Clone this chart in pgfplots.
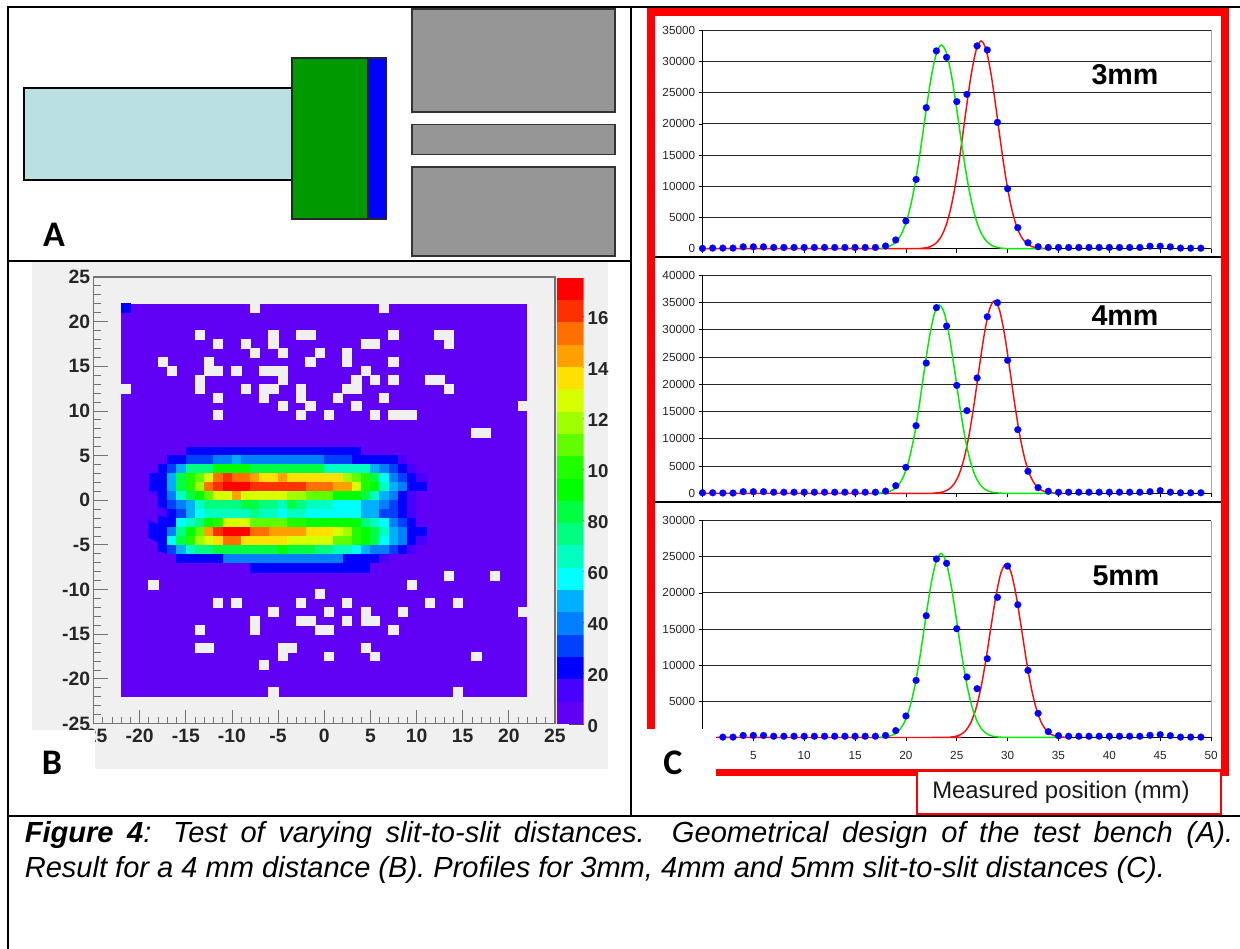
\documentclass[border=0pt]{standalone}
\usepackage{fontspec}
\setmainfont{Liberation Sans}
\newfontfamily\carlito{Carlito}
\usepackage{pgfplots}
\pgfplotsset{compat=1.18}
\definecolor{panel}{RGB}{240,240,240}
\definecolor{L1}{RGB}{96,0,245}
\definecolor{L2}{RGB}{72,0,255}
\definecolor{L3}{RGB}{0,0,255}
\definecolor{L4}{RGB}{0,64,255}
\definecolor{L5}{RGB}{0,128,255}
\definecolor{L6}{RGB}{0,176,255}
\definecolor{L7}{RGB}{0,255,255}
\definecolor{L8}{RGB}{0,255,192}
\definecolor{L9}{RGB}{0,255,128}
\definecolor{L10}{RGB}{0,255,64}
\definecolor{L11}{RGB}{0,255,0}
\definecolor{L12}{RGB}{32,255,0}
\definecolor{L13}{RGB}{96,255,0}
\definecolor{L14}{RGB}{160,255,0}
\definecolor{L15}{RGB}{216,255,0}
\definecolor{L16}{RGB}{255,224,0}
\definecolor{L17}{RGB}{255,160,0}
\definecolor{L18}{RGB}{255,112,0}
\definecolor{L19}{RGB}{255,48,0}
\definecolor{L20}{RGB}{255,0,0}
\definecolor{cg}{RGB}{0,235,0}
\definecolor{cr}{RGB}{240,16,16}
\pgfplotsset{
  colormap={root}{color=(L1) color=(L2) color=(L3) color=(L4) color=(L5) color=(L6) color=(L7) color=(L8) color=(L9) color=(L10) color=(L11) color=(L12) color=(L13) color=(L14) color=(L15) color=(L16) color=(L17) color=(L18) color=(L19) color=(L20)},
  pixel/.style={at={(0,-711.75pt)},anchor=south west,scale only axis,width=930pt,height=711.75pt,
    xmin=0,xmax=1240,ymin=0,ymax=949,y dir=reverse,hide axis,clip=false},
  chart/.style={scale only axis,width=381.4pt,xmin=0,xmax=50,anchor=south west,
    axis x line*=bottom,axis y line*=left,axis line style={-,black,line width=.7pt},
    xtick={0,5,...,50},tick align=outside,major tick length=3pt,
    tick style={black,line width=.6pt},ymajorgrids,grid style={black!85,line width=.7pt},
    scaled ticks=false,xticklabels={},
    ticklabel style={font=\fontsize{8.8}{10}\selectfont,text=black!85},
    yticklabel style={xshift=1pt},clip=false},
  curvG/.style={cg,line width=1.1pt,smooth,tension=0.5},
  curvR/.style={cr,line width=1.1pt,smooth,tension=0.5},
  dots/.style={blue,only marks,mark=*,mark size=2.6pt,mark options={draw=blue,fill=blue,line width=0.1pt}},
}
\newcommand{\rect}[5]{\addplot[#1] coordinates {(#2,#3)(#4,#3)(#4,#5)(#2,#5)} --cycle;}
\newcommand{\band}[3]{\addplot[fill=#1,draw=none] coordinates {(0,#2)(1,#2)(1,#3)(0,#3)} --cycle;}
\begin{document}
\begin{tikzpicture}
\useasboundingbox (0,0) rectangle (930pt,-711.75pt);
% ---------- background: frame, panel A, grey panel of B
\begin{axis}[pixel]
\rect{fill=white,draw=none}{0}{0}{1240}{949}
\rect{fill=panel,draw=none}{32}{262}{608}{769}
\rect{fill={rgb,255:red,187;green,224;blue,227},draw=black,line width=1.2pt}{23.7}{88}{292}{180}
\rect{fill={rgb,255:red,0;green,153;blue,0},draw=black!85,line width=1.2pt}{292}{58}{368}{218.7}
\rect{fill=blue,draw=black!85,line width=1.2pt}{368}{58}{386.5}{218.7}
\rect{fill={rgb,255:red,150;green,150;blue,150},draw=black!80,line width=1.2pt}{412}{8.7}{615}{112}
\rect{fill={rgb,255:red,150;green,150;blue,150},draw=black!80,line width=1.2pt}{412}{124.3}{615}{154.3}
\rect{fill={rgb,255:red,150;green,150;blue,150},draw=black!80,line width=1.2pt}{412}{167}{615}{255.7}
\end{axis}
% ---------- panel B: map
\begin{axis}[at={(70.125pt,-542.625pt)},anchor=south west,scale only axis,width=346.1pt,height=334.9pt,
  xmin=-25,xmax=25,ymin=-25,ymax=25,
  colormap name=root,point meta min=1,point meta max=20,
  tick pos=left,tick align=inside,major tick length=10.5pt,minor tick length=5.25pt,minor tick num=4,
  xtick={-25,-20,...,25},ytick={-25,-20,...,25},
  xticklabels={-25,-20,-15,-10,-5,0,5,10,15,20,25},
  yticklabels={-25,-20,-15,-10,-5,0,5,10,15,20,25},
  ticklabel style={font=\fontsize{14.5}{16}\selectfont\bfseries,text=black!85},
  xticklabel style={yshift=-0.5pt},yticklabel style={xshift=1pt},
  tick style={black!55,line width=.6pt},
  axis line style={black!55,line width=1.1pt}]
\addplot[fill=L1,draw=none] coordinates {(-22,-22)(22,-22)(22,22)(-22,22)} --cycle;
\addplot[L3,only marks,mark=square*,mark size=3.46pt,mark options={draw=L3,fill=L3,line width=0pt,yscale=0.97}] coordinates {(-21.5,21.5)};
\addplot[matrix plot*,mesh/cols=30,mesh/rows=14,point meta=explicit,draw=mapped color,line width=.2pt]
 table[row sep=\\,meta=c,x expr={mod(\coordindex,30)-18.5},y expr={5.5-floor(\coordindex/30)}]{
c\\
1\\1\\1\\1\\3\\3\\3\\3\\3\\3\\3\\3\\3\\3\\3\\3\\3\\3\\3\\3\\3\\3\\3\\1\\1\\1\\1\\1\\1\\1\\
1\\1\\3\\3\\4\\4\\4\\5\\5\\6\\5\\5\\5\\5\\5\\5\\5\\5\\5\\4\\4\\4\\3\\3\\3\\3\\3\\2\\1\\1\\
1\\3\\4\\6\\9\\9\\9\\11\\11\\11\\11\\10\\10\\10\\10\\10\\10\\10\\10\\8\\8\\8\\8\\8\\6\\5\\4\\3\\2\\1\\
3\\3\\6\\10\\12\\13\\15\\18\\19\\18\\18\\17\\16\\16\\17\\16\\16\\16\\16\\16\\16\\14\\13\\12\\10\\7\\5\\4\\3\\2\\
3\\3\\6\\10\\12\\14\\18\\19\\20\\20\\20\\19\\19\\19\\19\\19\\19\\18\\18\\18\\17\\17\\15\\12\\11\\8\\6\\5\\3\\3\\
2\\3\\5\\8\\10\\11\\13\\15\\15\\17\\15\\15\\15\\15\\15\\14\\14\\13\\13\\13\\11\\11\\11\\10\\8\\6\\5\\3\\2\\1\\
1\\3\\4\\5\\6\\8\\9\\9\\9\\9\\10\\10\\9\\9\\8\\10\\9\\8\\8\\8\\7\\7\\7\\6\\6\\5\\4\\3\\2\\1\\
1\\2\\3\\4\\6\\7\\8\\8\\8\\8\\8\\9\\8\\8\\7\\8\\8\\7\\7\\7\\7\\7\\7\\6\\6\\4\\4\\3\\2\\1\\
1\\3\\3\\7\\8\\9\\11\\12\\15\\15\\15\\13\\13\\13\\13\\12\\12\\11\\11\\11\\11\\11\\11\\9\\8\\7\\5\\4\\3\\1\\
3\\3\\5\\9\\11\\13\\17\\19\\20\\20\\20\\18\\18\\17\\17\\17\\17\\16\\16\\16\\15\\14\\12\\11\\10\\8\\6\\5\\3\\3\\
3\\3\\7\\10\\12\\14\\15\\16\\18\\18\\16\\16\\16\\16\\16\\15\\15\\15\\15\\15\\13\\13\\12\\11\\10\\7\\6\\5\\3\\2\\
1\\3\\4\\6\\8\\9\\9\\10\\10\\10\\10\\10\\10\\10\\11\\10\\10\\10\\9\\9\\8\\8\\7\\6\\5\\5\\4\\3\\2\\1\\
1\\1\\1\\3\\3\\3\\3\\3\\5\\5\\5\\5\\5\\5\\5\\5\\5\\5\\5\\5\\5\\3\\3\\3\\3\\2\\1\\1\\1\\1\\
1\\1\\1\\1\\1\\1\\1\\1\\1\\1\\1\\3\\3\\3\\3\\3\\3\\3\\3\\3\\3\\3\\3\\3\\1\\1\\1\\1\\1\\1\\
};
\addplot[panel,only marks,mark=square*,mark size=3.46pt,mark options={draw=panel,fill=panel,line width=0pt,yscale=0.97}] coordinates {
(-7.5,21.5)(6.5,21.5)
(-13.5,18.5)(-5.5,18.5)(-2.5,18.5)(-1.5,18.5)(7.5,18.5)(12.5,18.5)(13.5,18.5)
(-11.5,17.5)(-8.5,17.5)(-5.5,17.5)(4.5,17.5)(5.5,17.5)(13.5,17.5)
(-7.5,16.5)(-4.5,16.5)(-0.5,16.5)(2.5,16.5)
(-17.5,15.5)(-12.5,15.5)(-1.5,15.5)(2.5,15.5)(7.5,15.5)
(-16.5,14.5)(-12.5,14.5)(-11.5,14.5)(-9.5,14.5)(-6.5,14.5)(-5.5,14.5)(-4.5,14.5)(4.5,14.5)
(-13.5,13.5)(-4.5,13.5)(3.5,13.5)(5.5,13.5)(7.5,13.5)(11.5,13.5)(12.5,13.5)
(-21.5,12.5)(-13.5,12.5)(-8.5,12.5)(-6.5,12.5)(-5.5,12.5)(-2.5,12.5)(2.5,12.5)(3.5,12.5)(13.5,12.5)
(-11.5,11.5)(-6.5,11.5)(-2.5,11.5)(1.5,11.5)(6.5,11.5)
(-4.5,10.5)(-1.5,10.5)(3.5,10.5)(21.5,10.5)
(-11.5,9.5)(-2.5,9.5)(0.5,9.5)(5.5,9.5)(7.5,9.5)(8.5,9.5)(9.5,9.5)
(16.5,7.5)(17.5,7.5)
(13.5,-8.5)(18.5,-8.5)
(-18.5,-9.5)(9.5,-9.5)
(-0.5,-10.5)
(-11.5,-11.5)(-9.5,-11.5)(-2.5,-11.5)(2.5,-11.5)(11.5,-11.5)(14.5,-11.5)
(-5.5,-12.5)(0.5,-12.5)(4.5,-12.5)(8.5,-12.5)(21.5,-12.5)
(-7.5,-13.5)(-2.5,-13.5)(-1.5,-13.5)(2.5,-13.5)(4.5,-13.5)(5.5,-13.5)
(-13.5,-14.5)(-7.5,-14.5)(-0.5,-14.5)(0.5,-14.5)(7.5,-14.5)
(-13.5,-16.5)(-12.5,-16.5)(-4.5,-16.5)(-3.5,-16.5)(4.5,-16.5)
(-4.5,-17.5)(0.5,-17.5)(5.5,-17.5)(16.5,-17.5)
(-6.5,-18.5)
(-5.5,-21.5)(14.5,-21.5)
};
\end{axis}
% ---------- panel B: colour scale
\begin{axis}[at={(417.75pt,-543pt)},anchor=south west,scale only axis,width=20pt,height=334.7pt,
  xmin=0,xmax=1,ymin=0,ymax=175,axis x line=none,axis y line*=right,axis line style={draw=none},
  ytick={0,20,...,160},yticklabels={0,20,40,60,80,10,12,14,16},
  tick align=inside,major tick length=11.25pt,tick style={black!70,line width=.6pt},
  yticklabel style={font=\fontsize{14}{16}\selectfont\bfseries,text=black!85,xshift=-0.5pt,yshift=-1.5pt}]
\band{L1}{0}{8.75}\band{L2}{8.75}{17.5}\band{L3}{17.5}{26.25}\band{L4}{26.25}{35}
\band{L5}{35}{43.75}\band{L6}{43.75}{52.5}\band{L7}{52.5}{61.25}\band{L8}{61.25}{70}
\band{L9}{70}{78.75}\band{L10}{78.75}{87.5}\band{L11}{87.5}{96.25}\band{L12}{96.25}{105}
\band{L13}{105}{113.75}\band{L14}{113.75}{122.5}\band{L15}{122.5}{131.25}\band{L16}{131.25}{140}
\band{L17}{140}{148.75}\band{L18}{148.75}{157.5}\band{L19}{157.5}{166.25}\band{L20}{166.25}{175}
\end{axis}
% ---------- panel C: 3 mm
\begin{axis}[chart,at={(526.875pt,-186.525pt)},height=163.8pt,ymin=0,ymax=35000,ytick={0,5000,...,35000},yticklabels={0,5000,10000,15000,20000,25000,30000,35000}]
\addplot[black!35,line width=.7pt] coordinates {(50,0)(50,35000)};
\addplot[curvR] coordinates {(0,0)(21,0)(21.4,45)(21.9,130)(22.4,340)(22.9,810)(23.4,1760)(23.9,3520)(24.4,6390)(24.9,10590)(25.4,15980)(25.9,22040)(26.4,27700)(26.9,31800)(27.4,33300)(27.9,31800)(28.4,27700)(28.9,22040)(29.4,15980)(29.9,10590)(30.4,6390)(30.9,3520)(31.4,1760)(31.9,810)(32.4,340)(32.9,130)(33.4,45)(34,0)};
\addplot[curvG] coordinates {(17.5,0)(18,200)(18.5,480)(19,1070)(19.5,2190)(20,4120)(20.5,7140)(21,11360)(21.5,16610)(22,22330)(22.5,27580)(23,31300)(23.5,32650)(24,31300)(24.5,27580)(25,22330)(25.5,16610)(26,11360)(26.5,7140)(27,4120)(27.5,2190)(28,1070)(28.5,480)(29,200)(29.5,75)(30.5,0)(33.5,0)};
\addplot[dots] coordinates {(0,50)(1,100)(2,100)(3,100)(4,300)(5,300)(6,300)(7,200)(8,200)(9,200)(10,200)(11,200)(12,200)(13,200)(14,200)(15,200)(16,200)(17,200)(18,430)(19,1400)(20,4440)(21,11100)(22,22600)(23,31700)(24,30670)(25,23570)(26,24740)(27,32500)(28,31850)(29,20250)(30,9620)(31,3370)(32,960)(33,320)(34,200)(35,200)(36,200)(37,200)(38,200)(39,200)(40,200)(41,200)(42,200)(43,200)(44,400)(45,400)(46,300)(47,100)(48,80)(49,80)};
\end{axis}
% ---------- panel C: 4 mm
\begin{axis}[chart,at={(526.875pt,-369.975pt)},height=163.5pt,ymin=0,ymax=40000,ytick={0,5000,...,40000},yticklabels={0,5000,10000,15000,20000,25000,30000,35000,40000}]
\addplot[black!35,line width=.7pt] coordinates {(50,0)(50,40000)};
\addplot[curvR] coordinates {(0,0)(22.2,0)(22.7,35)(23.2,105)(23.7,290)(24.2,720)(24.7,1630)(25.2,3340)(25.7,6250)(26.2,10590)(26.7,16340)(27.2,22910)(27.7,29120)(28.2,33640)(28.7,35300)(29.2,33640)(29.7,29120)(30.2,22910)(30.7,16340)(31.2,10590)(31.7,6250)(32.2,3340)(32.7,1630)(33.2,720)(33.7,290)(34.2,105)(34.7,35)(35.5,0)};
\addplot[curvG] coordinates {(17.3,35)(17.8,100)(18.3,280)(18.8,700)(19.3,1590)(19.8,3270)(20.3,6120)(20.8,10370)(21.3,16000)(21.8,22420)(22.3,28500)(22.8,32930)(23.3,34550)(23.8,32930)(24.3,28500)(24.8,22420)(25.3,16000)(25.8,10370)(26.3,6120)(26.8,3270)(27.3,1590)(27.8,700)(28.3,280)(28.8,100)(29.3,35)(30,0)(34.5,0)};
\addplot[dots] coordinates {(0,100)(1,100)(2,50)(3,50)(4,300)(5,300)(6,300)(7,200)(8,200)(9,200)(10,200)(11,200)(12,200)(13,200)(14,200)(15,200)(16,200)(17,200)(18,400)(19,1400)(20,4770)(21,12400)(22,23900)(23,34070)(24,30700)(25,19800)(26,15170)(27,21160)(28,32400)(29,34980)(30,24400)(31,11680)(32,4040)(33,1040)(34,370)(35,180)(36,200)(37,200)(38,200)(39,200)(40,200)(41,200)(42,200)(43,200)(44,300)(45,490)(46,200)(47,100)(48,100)(49,100)};
\end{axis}
% ---------- panel C: 5 mm
\begin{axis}[chart,at={(526.875pt,-553.1pt)},height=162.6pt,ymin=0,ymax=30000,ytick={0,5000,...,30000},yticklabels={0,5000,10000,15000,20000,25000,30000},
  xticklabels={0,5,10,15,20,25,30,35,40,45,50},xticklabel style={yshift=-4pt}]
\addplot[black!35,line width=.7pt] coordinates {(50,0)(50,30000)};
\addplot[curvR] coordinates {(1.4,0)(23.9,0)(24.35,50)(24.85,145)(25.35,380)(25.85,910)(26.35,1970)(26.85,3820)(27.35,6700)(27.85,10610)(28.35,15170)(28.85,19560)(29.35,22800)(29.85,24000)(30.35,22800)(30.85,19560)(31.35,15170)(31.85,10610)(32.35,6700)(32.85,3820)(33.35,1970)(33.85,910)(34.35,380)(34.85,145)(35.35,50)(35.9,0)};
\addplot[curvG] coordinates {(17.45,25)(17.95,75)(18.45,210)(18.95,520)(19.45,1170)(19.95,2410)(20.45,4510)(20.95,7640)(21.45,11790)(21.95,16530)(22.45,21010)(22.95,24270)(23.45,25470)(23.95,24270)(24.45,21010)(24.95,16530)(25.45,11790)(25.95,7640)(26.45,4510)(26.95,2410)(27.45,1170)(27.95,520)(28.45,210)(28.95,75)(29.45,25)(30,0)(35,0)};
\addplot[dots] coordinates {(2,50)(3,50)(4,280)(5,280)(6,280)(7,170)(8,170)(9,170)(10,170)(11,170)(12,170)(13,170)(14,170)(15,170)(16,170)(17,170)(18,280)(19,950)(20,2970)(21,7900)(22,16850)(23,24700)(24,24100)(25,15050)(26,8370)(27,6750)(28,10900)(29,19390)(30,23720)(31,18370)(32,9290)(33,3340)(34,810)(35,250)(36,170)(37,170)(38,170)(39,170)(40,170)(41,170)(42,170)(43,170)(44,300)(45,390)(46,250)(47,50)(48,50)(49,50)};
\end{axis}
% ---------- overlay: patches, red frame, black rules, texts
\begin{axis}[pixel]
\rect{fill=white,draw=none}{20}{730}{95}{771}
\rect{fill=white,draw=none}{640}{729}{716}{814}
\rect{fill=black,draw=none}{654}{256.3}{1221}{257.8}
\rect{fill=black,draw=none}{654}{501}{1221}{502.5}
\rect{fill=red,draw=none}{647}{8}{1229}{15.5}
\rect{fill=red,draw=none}{647}{8}{654.5}{729}
\rect{fill=red,draw=none}{1221}{8}{1229}{776}
\rect{fill=red,draw=none}{716}{769}{1229}{776}
\rect{fill=white,draw=red,line width=1.1pt}{917}{771}{1221}{814}
\rect{fill=black,draw=none}{7}{6}{1240}{8}
\rect{fill=black,draw=none}{7}{6}{9}{949}
\rect{fill=black,draw=none}{630}{6}{632}{815}
\rect{fill=black,draw=none}{7}{260}{631}{261.5}
\rect{fill=black,draw=none}{7}{814.5}{1240}{816.5}
\node[font=\fontsize{27}{30}\selectfont\carlito\bfseries,inner sep=0pt] at (axis cs:54,235) {A};
\node[font=\fontsize{27}{30}\selectfont\carlito\bfseries,inner sep=0pt] at (axis cs:52,763) {B};
\node[font=\fontsize{27}{30}\selectfont\carlito\bfseries,inner sep=0pt] at (axis cs:673,763) {C};
\node[font=\fontsize{21.5}{24}\selectfont\bfseries,inner sep=0pt] at (axis cs:1125,75) {3mm};
\node[font=\fontsize{21.5}{24}\selectfont\bfseries,inner sep=0pt] at (axis cs:1125,316) {4mm};
\node[font=\fontsize{21.5}{24}\selectfont\bfseries,inner sep=0pt] at (axis cs:1126,576) {5mm};
\node[font=\fontsize{17.9}{20}\selectfont,anchor=west,inner sep=0pt,text=black!90] at (axis cs:932,792) {Measured position (mm)};
\node[anchor=north west,inner sep=0pt,text width=906.4pt,align=justify,font=\fontsize{21.8}{26.25}\selectfont\itshape] at (axis cs:24.5,821) {\textbf{Figure 4}: Test of varying slit-to-slit distances. Geometrical design of the test bench (A).\linebreak Result for a 4 mm distance (B). Profiles for 3mm, 4mm and 5mm slit-to-slit distances (C).\par};
\end{axis}
\end{tikzpicture}
\end{document}
